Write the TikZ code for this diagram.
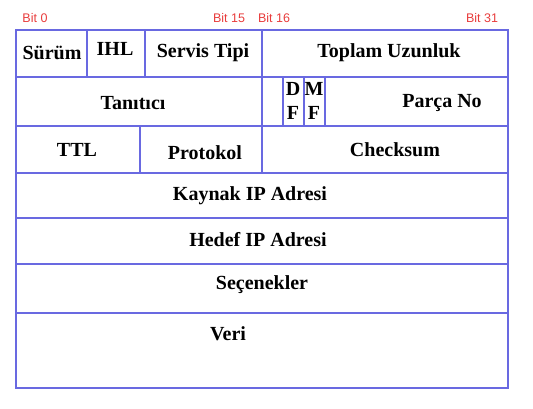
\documentclass[tikz,border=0pt]{standalone}
\usepackage{fontspec}
\setmainfont{Liberation Serif}
\newfontfamily\bitfont{Liberation Sans}
\usetikzlibrary{positioning}
\definecolor{gridblue}{RGB}{105,105,225}
\definecolor{bitred}{RGB}{232,60,60}
\tikzset{
  grid line/.style={draw=gridblue, line width=1.3pt},
  field/.style={font=\fontsize{20}{22}\selectfont\bfseries, inner sep=0pt},
  bitlabel/.style={font=\bitfont\fontsize{12.5}{13}\selectfont, text=bitred, inner sep=0pt},
}

\begin{document}
\begin{tikzpicture}[x=1pt, y=-1pt]
    \useasboundingbox (0,0) rectangle (533,408);
    % outer frame and rows
    \draw[grid line] (16,30) rectangle (508,388);
    \foreach \y in {77,126,173,218,264,313}
      \draw[grid line] (16,\y) -- (508,\y);
    % column separators
    \draw[grid line] (87,30) -- (87,77);
    \draw[grid line] (145,30) -- (145,77);
    \draw[grid line] (262,30) -- (262,173);
    \draw[grid line] (283,77) -- (283,126);
    \draw[grid line] (304,77) -- (304,126);
    \draw[grid line] (325,77) -- (325,126);
    \draw[grid line] (140,126) -- (140,173);
    % bit positions
    \node[bitlabel] (b0)  at (35,18)  {Bit 0};
    \node[bitlabel] (b15) at (229,18) {Bit 15};
    \node[bitlabel] (b16) at (274,18) {Bit 16};
    \node[bitlabel] (b31) at (482,18) {Bit 31};
    % header fields
    \node[field] (ver)   at (52,53)   {Sürüm};
    \node[field] (ihl)   at (115,49)  {IHL};
    \node[field] (tos)   at (203,53)  {Servis Tipi};
    \node[field] (len)   at (389,53)  {Toplam Uzunluk};
    \node[field] (ident) at (133,103) {Tanıtıcı};
    \node[field] (df)    at (293,103) {\begin{tabular}{@{}c@{}}D\\[2pt]F\end{tabular}};
    \node[field] (mf)    at (314,103) {\begin{tabular}{@{}c@{}}M\\[2pt]F\end{tabular}};
    \node[field] (frag)  at (442,103) {Parça No};
    \node[field] (ttl)   at (77,150)  {TTL};
    \node[field] (proto) at (205,153) {Protokol};
    \node[field] (csum)  at (395,150) {Checksum};
    \node[field] (src)   at (250,196) {Kaynak IP Adresi};
    \node[field] (dst)   at (258,240) {Hedef IP Adresi};
    \node[field] (opts)  at (262,285) {Seçenekler};
    \node[field] (data)  at (228,334) {Veri};
  \end{tikzpicture}
\end{document}
